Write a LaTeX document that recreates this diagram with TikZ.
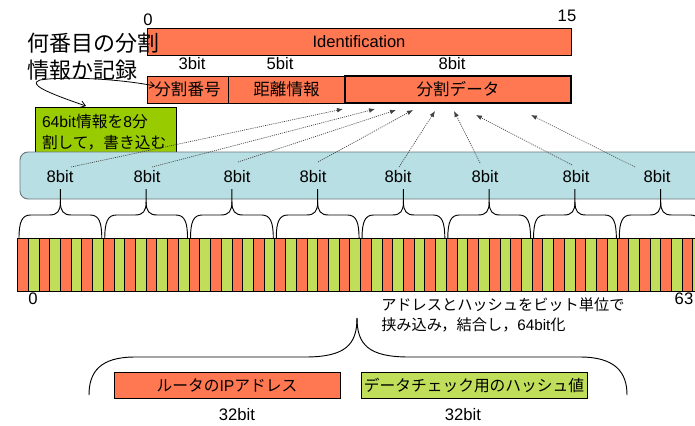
\documentclass[tikz,border=0pt]{standalone}
\usepackage{fontspec}
\setmainfont{Liberation Sans}
\newfontfamily\jp{Noto Sans CJK JP}
\usetikzlibrary{arrows.meta}
\definecolor{bitred}{RGB}{255,120,82}
\definecolor{bitgreen}{RGB}{192,222,90}
\definecolor{boxgreen}{RGB}{153,204,0}
\definecolor{paleblue}{RGB}{184,223,227}
\definecolor{blueedge}{RGB}{105,120,125}
\begin{document}
\begin{tikzpicture}[x=0.75pt,y=-0.75pt,
  txt/.style={inner sep=0pt, font=\fontsize{12.5}{15}\selectfont},
  cell/.style={draw=black, line width=0.6pt},
  redbox/.style={cell, fill=bitred, inner sep=0pt, font=\fontsize{12.4}{15}\selectfont},
  greenbox/.style={cell, fill=bitgreen, inner sep=0pt, font=\fontsize{11.8}{15}\selectfont},
  dotarrow/.style={draw=black!75, line width=0.5pt, dash pattern=on 0.8pt off 0.8pt, -{Latex[length=4.5pt,width=3.5pt]}},
  bracepath/.style={draw=black, line width=0.7pt},
  curlyarrow/.style={draw=black, line width=0.6pt, {Straight Barb[length=3.5pt,width=5pt]}-{Straight Barb[length=3.5pt,width=5pt]}}
]
\clip (0,0) rectangle (695,425);
\fill[white] (0,0) rectangle (695,425);

% top header
\node[txt] (z0) at (148,20) {0};
\node[txt] (z15) at (567,16) {15};
\node[redbox, minimum width=318pt, minimum height=20.25pt] (ident) at (359,41.5) {Identification};
\node[txt] (l3) at (192,64) {3bit};
\node[txt] (l5) at (280,64) {5bit};
\node[txt] (l8) at (452,64) {8bit};
\node[redbox, minimum width=60.75pt, minimum height=20.25pt] (num) at (187.5,89.5) {\jp 分割番号};
\node[redbox, minimum width=87.75pt, minimum height=20.25pt] (dist) at (286.5,89.5) {\jp 距離情報};
\node[redbox, line width=2pt, minimum width=169.5pt, minimum height=20.25pt] (data) at (458,89.5) {\jp 分割データ};

% left annotation
\node[inner sep=0pt, anchor=west, align=left, font=\jp\fontsize{16.5}{20.25}\selectfont] (note) at (27,56.5) {何番目の分割\\情報か記録};
\node[cell, fill=boxgreen, align=left, inner xsep=5.25pt, inner ysep=0pt, text width=95.25pt, minimum height=38.25pt, font=\fontsize{11.8}{15.75}\selectfont] (split) at (105.5,132.5) {64bit{\jp 情報を}8{\jp 分}\\{\jp 割して，書き込む}};
\coordinate (ca) at (86,106);
\coordinate (cb) at (155,86);
\draw[curlyarrow] (ca) .. controls (45,92) and (28,84) .. (40,80) .. controls (65,76) and (120,79) .. (cb);

% blue band
\draw[fill=paleblue, draw=blueedge, line width=0.7pt, rounded corners=6pt] (20,152) rectangle (740,199);
\node[txt] (b1) at (60,177) {8bit};
\node[txt] (b2) at (147,177) {8bit};
\node[txt] (b3) at (237,177) {8bit};
\node[txt] (b4) at (313,177) {8bit};
\node[txt] (b5) at (398,177) {8bit};
\node[txt] (b6) at (485,177) {8bit};
\node[txt] (b7) at (576,177) {8bit};
\node[txt] (b8) at (657,177) {8bit};

% dotted arrows
\coordinate (s1) at (71,167);  \coordinate (e1) at (343,109);
\coordinate (s2) at (152,167); \coordinate (e2) at (375,109);
\coordinate (s3) at (238,162); \coordinate (e3) at (396,110);
\coordinate (s4) at (318,162); \coordinate (e4) at (413,110);
\coordinate (s5) at (399,167); \coordinate (e5) at (435,111);
\coordinate (s6) at (480,163); \coordinate (e6) at (454,111);
\coordinate (s7) at (572,165); \coordinate (e7) at (476,115);
\coordinate (s8) at (635,167); \coordinate (e8) at (531,115);
\foreach \n in {1,...,8}{\draw[dotarrow] (s\n) -- (e\n);}

% bits
\foreach \i in {0,...,63}{
  \pgfmathsetmacro{\xa}{17.5+10.72*\i}
  \pgfmathsetmacro{\xb}{\xa+10.72}
  \ifodd\i \def\bitcol{bitgreen}\else\def\bitcol{bitred}\fi
  \filldraw[cell, fill=\bitcol] (\xa,238) rectangle (\xb,291);
}

% braces
\foreach \k in {0,...,7}{
  \pgfmathsetmacro{\braL}{17.5+85.76*\k}
  \pgfmathsetmacro{\braR}{\braL+85.76}
  \pgfmathsetmacro{\braT}{\braL+42.88}
  \draw[bracepath] (\braL+1.5,238) .. controls (\braL+1.5,222) and (\braL+4.5,215) .. (\braL+13,215) -- (\braT-11,215) .. controls (\braT-3,215) and (\braT,211) .. (\braT,202) -- (\braT,189);
  \draw[bracepath] (\braT,202) .. controls (\braT,211) and (\braT+3,215) .. (\braT+11,215) -- (\braR-13,215) .. controls (\braR-4.5,215) and (\braR-1.5,222) .. (\braR-1.5,238);
}

\node[txt] (y0) at (33,299) {0};
\node[txt] (y63) at (684,299) {63};
\node[inner sep=0pt, anchor=west, align=left, font=\fontsize{11.4}{15}\selectfont] (merge) at (381,315) {{\jp アドレスとハッシュをビット単位で}\\{\jp 挟み込み，結合し，}64bit{\jp 化}};

% bottom brace
\draw[bracepath] (357,318) .. controls (357,345) and (345,357) .. (305,357) -- (135,357) .. controls (100,357) and (89,372) .. (89,395);
\draw[bracepath] (357,318) .. controls (357,345) and (369,357) .. (409,357) -- (580,357) .. controls (615,357) and (627,372) .. (627,395);

\node[redbox, font=\fontsize{11.8}{15}\selectfont, minimum width=169.5pt, minimum height=19.5pt] (ip) at (227,385) {{\jp ルータの}IP{\jp アドレス}};
\node[greenbox, minimum width=169.5pt, minimum height=19.5pt] (hash) at (474,385) {\jp データチェック用のハッシュ値};
\node[txt] (w1) at (237,415) {32bit};
\node[txt] (w2) at (463,415) {32bit};
\end{tikzpicture}
\end{document}
